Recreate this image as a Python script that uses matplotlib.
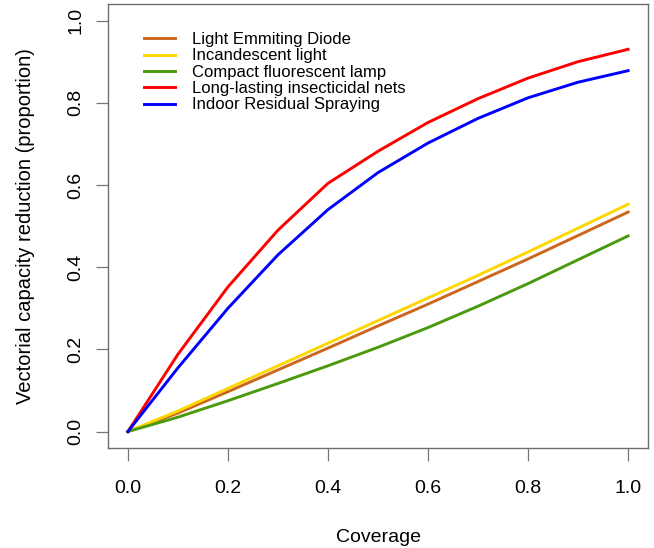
import matplotlib
matplotlib.use("Agg")
import matplotlib.pyplot as plt

plt.rcParams["font.family"] = ["Liberation Sans", "DejaVu Sans"]

coverage = [0.0, 0.1, 0.2, 0.3, 0.4, 0.5, 0.6, 0.7, 0.8, 0.9, 1.0]

led = [0.0, 0.045, 0.097, 0.150, 0.203, 0.257, 0.310, 0.365, 0.420, 0.477, 0.534]
incandescent = [0.0, 0.050, 0.105, 0.160, 0.215, 0.270, 0.325, 0.380, 0.437, 0.495, 0.553]
cfl = [0.0, 0.035, 0.075, 0.117, 0.160, 0.205, 0.253, 0.305, 0.360, 0.418, 0.476]
llin = [0.0, 0.188, 0.352, 0.490, 0.604, 0.682, 0.752, 0.810, 0.860, 0.900, 0.930]
irs = [0.0, 0.155, 0.300, 0.430, 0.540, 0.630, 0.702, 0.762, 0.812, 0.850, 0.878]

labels = ["Light Emmiting Diode", "Incandescent light", "Compact fluorescent lamp",
          "Long-lasting insecticidal nets", "Indoor Residual Spraying"]
colors = ["#CD661D", "#FFD700", "#4B9A0E", "#FF0000", "#0000FF"]
series = [led, incandescent, cfl, llin, irs]

fig = plt.figure(figsize=(6.54, 5.48), dpi=100)
ax = fig.add_axes([0.165, 0.1825, 0.826, 0.810])

for ys, c, lab in zip(series, colors, labels):
    ax.plot(coverage, ys, color=c, lw=2.1, label=lab)

ax.set_xlim(-0.04, 1.04)
ax.set_ylim(-0.04, 1.04)
ax.set_xticks([0.0, 0.2, 0.4, 0.6, 0.8, 1.0])
ax.set_yticks([0.0, 0.2, 0.4, 0.6, 0.8, 1.0])
ax.set_xticklabels(["0.0", "0.2", "0.4", "0.6", "0.8", "1.0"])
ax.set_yticklabels(["0.0", "0.2", "0.4", "0.6", "0.8", "1.0"], rotation=90, va="center")
ax.tick_params(axis="both", length=9, width=0.9, color="#777777", labelsize=14)
ax.tick_params(axis="x", pad=14)
ax.tick_params(axis="y", pad=8)
for sp in ax.spines.values():
    sp.set_color("#6e6e6e")
    sp.set_linewidth(1.0)

ax.set_xlabel("Coverage", fontsize=14, labelpad=23)
ax.set_ylabel("Vectorial capacity reduction (proportion)", fontsize=14.5, labelpad=23)

ax.legend(loc="upper left", bbox_to_anchor=(0.054, 0.952), frameon=False, fontsize=12,
          handlelength=1.9, handletextpad=1.0, labelspacing=0.08, borderaxespad=0)

fig.savefig("out.png", dpi=100)
